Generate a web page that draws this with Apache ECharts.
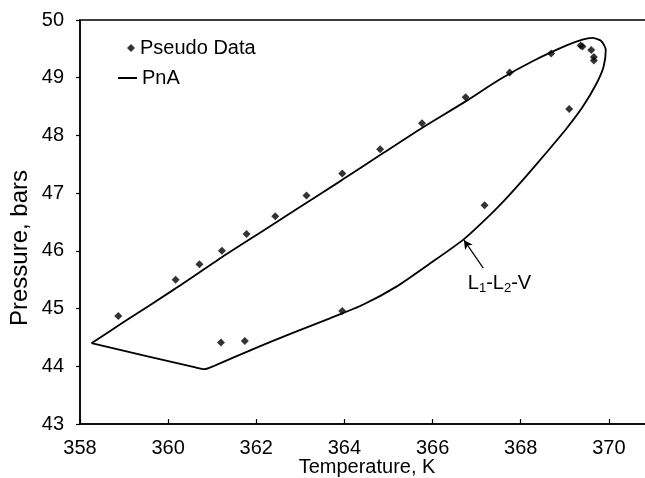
<!DOCTYPE html>
<html>
<head>
<meta charset="utf-8">
<script src="https://cdn.jsdelivr.net/npm/echarts@6/dist/echarts.min.js"></script>
<style>
  html, body { margin: 0; padding: 0; background: #fff; }
  #chart { width: 645px; height: 478px; }
</style>
</head>
<body>
<div id="chart"></div>
<script>
// Pseudo data points (temperature in K, pressure in bars)
const pseudoTemperature = [358.87, 360.17, 360.71, 361.22, 361.78, 362.43, 363.14, 363.95, 364.81, 365.76,
                           366.75, 367.75, 368.69, 369.36, 369.40, 369.60, 369.66, 369.66, 369.10, 367.18,
                           363.95, 361.20, 361.74];
const pseudoPressure    = [44.87, 45.50, 45.77, 46.00, 46.29, 46.60, 46.96, 47.34, 47.76, 48.21,
                           48.66, 49.09, 49.42, 49.56, 49.54, 49.48, 49.36, 49.30, 48.46, 46.79,
                           44.96, 44.41, 44.44];

// PnA phase envelope, traced as a closed loop starting at the left corner
const pnaTemperature = [358.26, 359.00, 360.17, 361.22, 362.20, 362.99, 363.95, 364.81, 365.76, 366.75,
                        367.52, 368.28, 369.04, 369.40, 369.62, 369.82, 369.93, 369.88, 369.72, 369.41,
                        369.04, 368.58, 368.13, 367.72, 367.30, 366.69, 365.94, 365.18, 364.43, 363.67,
                        362.80, 361.90, 361.05, 360.82, 360.62, 358.26];
const pnaPressure    = [44.40, 44.77, 45.35, 45.89, 46.37, 46.76, 47.23, 47.66, 48.13, 48.59,
                        48.97, 49.29, 49.56, 49.66, 49.69, 49.64, 49.48, 49.19, 48.90, 48.50,
                        48.12, 47.70, 47.30, 46.95, 46.62, 46.19, 45.78, 45.38, 45.07, 44.83,
                        44.57, 44.29, 44.01, 43.95, 43.98, 44.40];

// Axis ticks
const tempTicks = { min: 358, max: 372, interval: 2 };
const presTicks = { min: 43, max: 50, interval: 1 };

// Annotation: arrow from label to the three-phase curve
const arrowFrom = [367.15, 45.70];
const arrowTo   = [366.71, 46.19];
const arrowLabelAt = [366.80, 45.44];

const pseudoData = pseudoTemperature.map((t, i) => [t, pseudoPressure[i]]);
const pnaData = pnaTemperature.map((t, i) => [t, pnaPressure[i]]);

const FONT = "'Liberation Sans', Arial, sans-serif";

const chart = echarts.init(document.getElementById('chart'), null, { renderer: 'canvas' });

chart.setOption({
  animation: false,
  backgroundColor: '#ffffff',
  textStyle: { fontFamily: FONT, color: '#000' },
  grid: {
    left: 80, top: 20, right: -52, bottom: 54,
    containLabel: false,
    outerBoundsMode: 'none',
    show: true, borderColor: '#000', borderWidth: 1.5, backgroundColor: 'transparent'
  },
  legend: [
    {
      data: ['Pseudo Data'], left: 127, top: 38, padding: 0,
      icon: 'diamond', itemWidth: 8, itemHeight: 8,
      textStyle: { fontFamily: FONT, fontSize: 20, color: '#000' }
    },
    {
      data: ['PnA'], left: 118, top: 68, padding: 0,
      icon: 'rect', itemWidth: 19, itemHeight: 2,
      textStyle: { fontFamily: FONT, fontSize: 20, color: '#000' }
    }
  ],
  xAxis: {
    type: 'value',
    min: tempTicks.min, max: tempTicks.max, interval: tempTicks.interval,
    splitLine: { show: false },
    axisLine: { lineStyle: { color: '#000', width: 1.5 } },
    axisTick: { inside: true, length: 5, lineStyle: { color: '#000', width: 1.2 } },
    axisLabel: { color: '#000', fontFamily: FONT, fontSize: 20, margin: 14 }
  },
  yAxis: {
    type: 'value',
    min: presTicks.min, max: presTicks.max, interval: presTicks.interval,
    splitLine: { show: false },
    axisLine: { show: true, lineStyle: { color: '#000', width: 1.5 } },
    axisTick: { show: true, inside: false, length: 4, lineStyle: { color: '#000', width: 1.2 } },
    axisLabel: { color: '#000', fontFamily: FONT, fontSize: 20, margin: 16 }
  },
  graphic: [
    {
      type: 'text', x: 367, y: 467,
      style: { text: 'Temperature, K', font: "20px 'Liberation Sans', Arial, sans-serif", fill: '#000',
               align: 'center', verticalAlign: 'middle' }
    },
    {
      type: 'text', x: 20, y: 248, rotation: Math.PI / 2,
      style: { text: 'Pressure, bars', font: "24px 'Liberation Sans', Arial, sans-serif", fill: '#000',
               align: 'center', verticalAlign: 'middle' }
    }
  ],
  series: [
    {
      name: 'Pseudo Data',
      type: 'scatter',
      data: pseudoData,
      symbol: 'diamond',
      symbolSize: 8,
      itemStyle: { color: '#000' },
      z: 3
    },
    {
      name: 'PnA',
      type: 'line',
      data: pnaData,
      smooth: 0.25,
      showSymbol: false,
      symbol: 'none',
      itemStyle: { color: '#000' },
      lineStyle: { color: '#000', width: 1.8 },
      markLine: {
        silent: true,
        symbol: ['none', 'arrow'],
        symbolSize: [7, 9],
        lineStyle: { color: '#000', width: 1.2, type: 'solid' },
        label: { show: false },
        data: [[{ coord: arrowFrom }, { coord: arrowTo }]]
      },
      markPoint: {
        silent: true,
        symbol: 'circle',
        symbolSize: 0,
        data: [{ coord: arrowLabelAt }],
        label: {
          show: true,
          position: 'right',
          distance: 0,
          formatter: 'L{s|1}-L{s|2}-V',
          fontFamily: FONT,
          fontSize: 20,
          color: '#000',
          rich: {
            s: { fontSize: 13, verticalAlign: 'bottom', padding: [10, 0, 0, 0], fontFamily: FONT, color: '#000' }
          }
        }
      }
    }
  ]
});
</script>
</body>
</html>
